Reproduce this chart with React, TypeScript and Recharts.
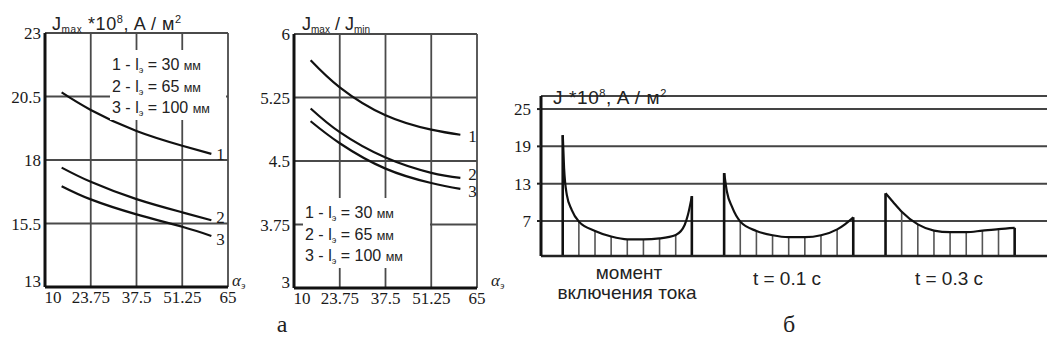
import React from 'react';
import { LineChart, Line, XAxis, YAxis, CartesianGrid, ComposedChart, Bar } from 'recharts';

// α_э, points where curves were read
const ALPHA = [15, 23.75, 37.5, 51.25, 60];
const ALPHA_TICKS = [10, 23.75, 37.5, 51.25, 65];

// Jmax * 10^8, A/m2
const JMAX_1 = [20.66, 19.97, 19.14, 18.56, 18.24];
const JMAX_2 = [17.7, 17.14, 16.46, 15.94, 15.63];
const JMAX_3 = [16.97, 16.45, 15.86, 15.37, 15.01];
const JMAX_TICKS = [13, 15.5, 18, 20.5, 23];

// Jmax / Jmin
const RATIO_1 = [5.69, 5.37, 5.04, 4.87, 4.81];
const RATIO_2 = [5.12, 4.84, 4.54, 4.36, 4.3];
const RATIO_3 = [4.97, 4.71, 4.41, 4.24, 4.17];
const RATIO_TICKS = [3, 3.75, 4.5, 5.25, 6];

const LEGEND = [
  ['1', '30'],
  ['2', '65'],
  ['3', '100'],
];

// current density pulses: [time offset, J]; whole offsets carry a hatch line
const PULSE_START = [0, 10, 20];
const PULSE_1 = [
  [0, 20.8], [0.08, 15.5], [0.25, 11.2], [0.55, 8.8], [1, 6.9], [2, 5.4], [3, 4.5],
  [4, 4.05], [5, 4.05], [6, 4.2], [7, 4.75], [7.55, 6.35], [7.75, 7.95], [8, 11.0],
];
const PULSE_2 = [
  [0, 14.7], [0.17, 11.7], [0.48, 9.3], [1, 6.9], [2, 5.4], [3, 4.7], [4, 4.4],
  [5, 4.4], [6, 4.7], [7, 5.65], [7.5, 6.5], [8, 7.6],
];
const PULSE_3 = [
  [0, 11.45], [0.45, 10.1], [1, 8.5], [2, 6.45], [3, 5.45], [4, 5.2], [5, 5.2],
  [6, 5.45], [7, 5.7], [8, 5.9],
];
const PULSE_NAMES = [['момент', 'включения тока'], ['t = 0.1 c'], ['t = 0.3 c']];
const J_TICKS = [7, 13, 19, 25];

const jmaxRows = ALPHA.map((a, i) => ({ a, c1: JMAX_1[i], c2: JMAX_2[i], c3: JMAX_3[i] }));
const ratioRows = ALPHA.map((a, i) => ({ a, c1: RATIO_1[i], c2: RATIO_2[i], c3: RATIO_3[i] }));

const pulseRows: any[] = [];
[PULSE_1, PULSE_2, PULSE_3].forEach((pulse, k) => {
  pulse.forEach(([dt, j], i) => {
    pulseRows.push({
      t: PULSE_START[k] + dt,
      j,
      h: Number.isInteger(dt) ? j : null,
      edge: i === 0 || i === pulse.length - 1,
    });
  });
  if (k < 2) pulseRows.push({ t: PULSE_START[k] + 9, j: null, h: null, edge: false });
});

const SERIF = '"Liberation Serif", "Times New Roman", serif';
const SANS = '"Liberation Sans", Arial, sans-serif';
const INK = '#1a1a1a';
const tickStyle = { fontFamily: SERIF, fontSize: 17, fill: INK };

// first x label pushed right, lowest y label lifted, so the corner labels do not collide
const XTick = (p: any) => (
  <text x={p.x + (p.index === 0 ? 8 : 0)} y={p.y} dy={13} textAnchor="middle" {...tickStyle}>
    {p.payload.value}
  </text>
);
const YTick = (p: any) => (
  <text x={p.x} y={p.y + (p.index === 0 ? -6 : 0)} dy={6} textAnchor="end" {...tickStyle}>
    {p.payload.value}
  </text>
);

const endLabel = (text: string, dx: number, dy: number) => (p: any) =>
  p.index === ALPHA.length - 1 ? (
    <text x={p.x + dx} y={p.y + dy} fontFamily={SERIF} fontSize={17} fill={INK}>
      {text}
    </text>
  ) : (
    <g />
  );

const HatchShape = (props: any) => {
  const { x, y, width, height, payload } = props;
  if (payload == null || payload.h == null || !height) return <g />;
  const cx = x + width / 2;
  return (
    <line
      x1={cx}
      x2={cx}
      y1={y}
      y2={y + height}
      stroke={payload.edge ? '#111' : '#555'}
      strokeWidth={payload.edge ? 2.6 : 1.6}
    />
  );
};

const Legend = ({ left, top, width, height }: any) => (
  <div
    style={{
      position: 'absolute', left, top, width, height, background: '#fff',
      fontFamily: SANS, fontSize: 16, lineHeight: '19.5px', color: '#222',
      paddingTop: 5, paddingLeft: 2, boxSizing: 'border-box', whiteSpace: 'nowrap',
    }}
  >
    {LEGEND.map(([n, mm]) => (
      <div key={n}>
        {n} - l<sub style={{ fontSize: 9, verticalAlign: '-3px', lineHeight: 0 }}>э</sub> = {mm}{' '}
        <span style={{ fontSize: 12.5 }}>мм</span>
      </div>
    ))}
  </div>
);

const Text = ({ left, top, size = 17, font = SANS, children, center = false, italic = false, spacing = 0 }: any) => (
  <div
    style={{
      position: 'absolute', left, top, fontFamily: font, fontSize: size, color: '#222',
      whiteSpace: 'nowrap', lineHeight: 1, fontStyle: italic ? 'italic' : 'normal',
      letterSpacing: spacing, transform: center ? 'translateX(-50%)' : undefined,
    }}
  >
    {children}
  </div>
);

const sub = (s: string) => <sub style={{ fontSize: 10, verticalAlign: '-3px', lineHeight: 0 }}>{s}</sub>;
const sup = (s: string) => <sup style={{ fontSize: 11, verticalAlign: '7px', lineHeight: 0 }}>{s}</sup>;

const SmallChart = ({ rows, domain, ticks, labels }: any) => (
  <LineChart width={250} height={310} data={rows} margin={{ top: 33, right: 22, bottom: 0, left: 0 }}>
    <CartesianGrid stroke="#4a4a4a" strokeWidth={1.8} />
    <XAxis
      dataKey="a" type="number" domain={[10, 65]} ticks={ALPHA_TICKS} height={23}
      tickSize={0} tickMargin={3} tick={<XTick />} axisLine={{ stroke: '#111', strokeWidth: 3 }}
      interval={0}
    />
    <YAxis
      type="number" domain={domain} ticks={ticks} width={45} tickSize={0} tickMargin={4}
      tick={<YTick />} axisLine={{ stroke: '#111', strokeWidth: 3 }} interval={0}
    />
    {['c1', 'c2', 'c3'].map((k, i) => (
      <Line
        key={k} dataKey={k} type="natural" stroke="#111" strokeWidth={2.2} dot={false}
        isAnimationActive={false} label={endLabel(String(i + 1), labels[i][0], labels[i][1])}
      />
    ))}
  </LineChart>
);

export default function App() {
  return (
    <div style={{ position: 'absolute', left: 0, top: 0, width: 1047, height: 356, background: '#fff', overflow: 'hidden' }}>
      <div style={{ position: 'absolute', left: 0, top: 0 }}>
        <SmallChart rows={jmaxRows} domain={[13, 23]} ticks={JMAX_TICKS} labels={[[5, 6], [5, 3], [5, 9]]} />
      </div>
      <div style={{ position: 'absolute', left: 249, top: 1 }}>
        <SmallChart rows={ratioRows} domain={[3, 6]} ticks={RATIO_TICKS} labels={[[8, 7], [8, 2], [8, 8]]} />
      </div>
      <Legend left={110} top={50} width={116} height={70} />
      <Legend left={303} top={198} width={127} height={70} />

      <Text left={52} top={15} size={18} spacing={0.6}>J{sub('max')} *10{sup('8')}, A / м{sup('2')}</Text>
      <Text left={302} top={15} size={18}>J{sub('max')} / J{sub('min')}</Text>
      <Text left={232} top={272} font={SERIF} italic>α{sub('э')}</Text>
      <Text left={491} top={272} font={SERIF} italic>α{sub('э')}</Text>

      <div style={{ position: 'absolute', left: 490, top: 0 }}>
        <ComposedChart width={557} height={260} data={pulseRows} margin={{ top: 96, right: 0, bottom: 0, left: 0 }}>
          <CartesianGrid vertical={false} stroke="#444" strokeWidth={2} />
          <XAxis
            dataKey="t" type="number" domain={[-1.35, 30]} allowDataOverflow height={4}
            tick={false} tickLine={false} axisLine={{ stroke: '#222', strokeWidth: 2.5 }}
          />
          <YAxis
            type="number" domain={[1.37, 27.1]} allowDataOverflow ticks={J_TICKS} width={51}
            tickSize={4} tickMargin={6} tick={tickStyle} interval={0}
            tickLine={{ stroke: '#222', strokeWidth: 2 }} axisLine={{ stroke: '#111', strokeWidth: 3 }}
          />
          <Bar dataKey="h" barSize={2} shape={<HatchShape />} isAnimationActive={false} />
          <Line
            dataKey="j" type="monotone" stroke="#111" strokeWidth={2.2} dot={false}
            connectNulls={false} isAnimationActive={false}
          />
        </ComposedChart>
      </div>
      <Text left={553} top={88} size={19} spacing={0.6}>J *10{sup('8')}, A / м{sup('2')}</Text>

      <Text left={629} top={263} size={19} center>{PULSE_NAMES[0][0]}</Text>
      <Text left={627} top={283} size={19} center>{PULSE_NAMES[0][1]}</Text>
      <Text left={787} top={269} size={19} center>{PULSE_NAMES[1][0]}</Text>
      <Text left={949} top={269} size={19} center>{PULSE_NAMES[2][0]}</Text>

      <Text left={282} top={312} size={24} font={SERIF} center>а</Text>
      <Text left={789} top={312} size={24} font={SERIF} center>б</Text>
    </div>
  );
}
